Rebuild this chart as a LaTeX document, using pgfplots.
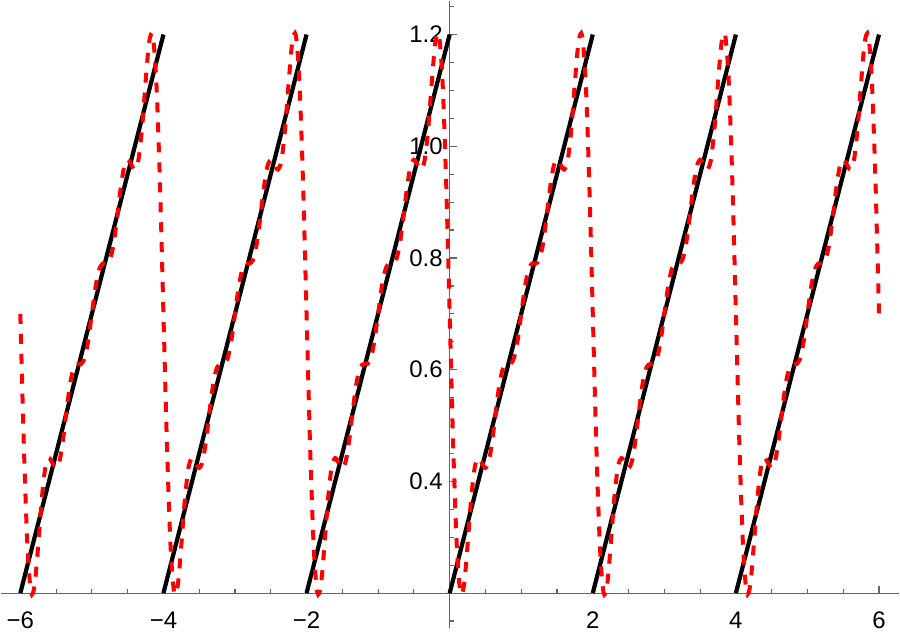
\documentclass[border=0pt]{standalone}
\usepackage{fontspec}
\setmainfont{Liberation Sans}
\usepackage{pgfplots}
\pgfplotsset{compat=1.18}
\definecolor{axgray}{gray}{0.4}
\begin{document}
\begin{tikzpicture}
\begin{axis}[
  width=449.8pt, height=314pt, scale only axis,
  xmin=-6.27, xmax=6.285, ymin=0.138, ymax=1.2608,
  y coord trafo/.code={\pgfmathparse{#1-0.2}},
  y coord inv trafo/.code={\pgfmathparse{#1+0.2}},
  axis lines=middle,
  axis line style={-, draw=axgray, line width=0.6pt},
  tick align=inside,
  major tick length=3.5pt, minor tick length=2.2pt,
  tick style={axgray, line width=0.6pt},
  xtick={-6,-4,-2,0,2,4,6},
  xticklabels={−6,−4,−2,,2,4,6},
  minor xtick={-5.5,-5,-4.5,-3.5,-3,-2.5,-1.5,-1,-0.5,0.5,1,1.5,2.5,3,3.5,4.5,5,5.5},
  ytick={0.2,0.4,0.6,0.8,1.0,1.2},
  yticklabels={,0.4,0.6,0.8,1.0,1.2},
  minor ytick={0.15,0.25,0.3,0.35,0.45,0.5,0.55,0.65,0.7,0.75,0.85,0.9,0.95,1.05,1.1,1.15,1.25},
  ticklabel style={font=\fontsize{12}{14}\selectfont, text=black},
  xticklabel style={yshift=-6pt},
  clip=true,
]
\addplot[black, line width=2.1pt] coordinates {(-6,0.2) (-4,1.2)};
\addplot[black, line width=2.1pt] coordinates {(-4,0.2) (-2,1.2)};
\addplot[black, line width=2.1pt] coordinates {(-2,0.2) (0,1.2)};
\addplot[black, line width=2.1pt] coordinates {(0,0.2) (2,1.2)};
\addplot[black, line width=2.1pt] coordinates {(2,0.2) (4,1.2)};
\addplot[black, line width=2.1pt] coordinates {(4,0.2) (6,1.2)};
\addplot[red, line width=2pt, dash pattern=on 5pt off 5pt, smooth] table {
x y
-6.00 0.7000
-5.95 0.4611
-5.90 0.2829
-5.85 0.2012
-5.80 0.2139
-5.75 0.2858
-5.70 0.3688
-5.65 0.4249
-5.60 0.4418
-5.55 0.4327
-5.50 0.4241
-5.45 0.4375
-5.40 0.4775
-5.35 0.5311
-5.30 0.5779
-5.25 0.6041
-5.20 0.6101
-5.15 0.6101
-5.10 0.6214
-5.05 0.6530
-5.00 0.7000
-4.95 0.7470
-4.90 0.7786
-4.85 0.7899
-4.80 0.7899
-4.75 0.7959
-4.70 0.8221
-4.65 0.8689
-4.60 0.9225
-4.55 0.9625
-4.50 0.9759
-4.45 0.9673
-4.40 0.9582
-4.35 0.9751
-4.30 1.0312
-4.25 1.1142
-4.20 1.1861
-4.15 1.1988
-4.10 1.1171
-4.05 0.9389
-4.00 0.7000
-3.95 0.4611
-3.90 0.2829
-3.85 0.2012
-3.80 0.2139
-3.75 0.2858
-3.70 0.3688
-3.65 0.4249
-3.60 0.4418
-3.55 0.4327
-3.50 0.4241
-3.45 0.4375
-3.40 0.4775
-3.35 0.5311
-3.30 0.5779
-3.25 0.6041
-3.20 0.6101
-3.15 0.6101
-3.10 0.6214
-3.05 0.6530
-3.00 0.7000
-2.95 0.7470
-2.90 0.7786
-2.85 0.7899
-2.80 0.7899
-2.75 0.7959
-2.70 0.8221
-2.65 0.8689
-2.60 0.9225
-2.55 0.9625
-2.50 0.9759
-2.45 0.9673
-2.40 0.9582
-2.35 0.9751
-2.30 1.0312
-2.25 1.1142
-2.20 1.1861
-2.15 1.1988
-2.10 1.1171
-2.05 0.9389
-2.00 0.7000
-1.95 0.4611
-1.90 0.2829
-1.85 0.2012
-1.80 0.2139
-1.75 0.2858
-1.70 0.3688
-1.65 0.4249
-1.60 0.4418
-1.55 0.4327
-1.50 0.4241
-1.45 0.4375
-1.40 0.4775
-1.35 0.5311
-1.30 0.5779
-1.25 0.6041
-1.20 0.6101
-1.15 0.6101
-1.10 0.6214
-1.05 0.6530
-1.00 0.7000
-0.95 0.7470
-0.90 0.7786
-0.85 0.7899
-0.80 0.7899
-0.75 0.7959
-0.70 0.8221
-0.65 0.8689
-0.60 0.9225
-0.55 0.9625
-0.50 0.9759
-0.45 0.9673
-0.40 0.9582
-0.35 0.9751
-0.30 1.0312
-0.25 1.1142
-0.20 1.1861
-0.15 1.1988
-0.10 1.1171
-0.05 0.9389
0.00 0.7000
0.05 0.4611
0.10 0.2829
0.15 0.2012
0.20 0.2139
0.25 0.2858
0.30 0.3688
0.35 0.4249
0.40 0.4418
0.45 0.4327
0.50 0.4241
0.55 0.4375
0.60 0.4775
0.65 0.5311
0.70 0.5779
0.75 0.6041
0.80 0.6101
0.85 0.6101
0.90 0.6214
0.95 0.6530
1.00 0.7000
1.05 0.7470
1.10 0.7786
1.15 0.7899
1.20 0.7899
1.25 0.7959
1.30 0.8221
1.35 0.8689
1.40 0.9225
1.45 0.9625
1.50 0.9759
1.55 0.9673
1.60 0.9582
1.65 0.9751
1.70 1.0312
1.75 1.1142
1.80 1.1861
1.85 1.1988
1.90 1.1171
1.95 0.9389
2.00 0.7000
2.05 0.4611
2.10 0.2829
2.15 0.2012
2.20 0.2139
2.25 0.2858
2.30 0.3688
2.35 0.4249
2.40 0.4418
2.45 0.4327
2.50 0.4241
2.55 0.4375
2.60 0.4775
2.65 0.5311
2.70 0.5779
2.75 0.6041
2.80 0.6101
2.85 0.6101
2.90 0.6214
2.95 0.6530
3.00 0.7000
3.05 0.7470
3.10 0.7786
3.15 0.7899
3.20 0.7899
3.25 0.7959
3.30 0.8221
3.35 0.8689
3.40 0.9225
3.45 0.9625
3.50 0.9759
3.55 0.9673
3.60 0.9582
3.65 0.9751
3.70 1.0312
3.75 1.1142
3.80 1.1861
3.85 1.1988
3.90 1.1171
3.95 0.9389
4.00 0.7000
4.05 0.4611
4.10 0.2829
4.15 0.2012
4.20 0.2139
4.25 0.2858
4.30 0.3688
4.35 0.4249
4.40 0.4418
4.45 0.4327
4.50 0.4241
4.55 0.4375
4.60 0.4775
4.65 0.5311
4.70 0.5779
4.75 0.6041
4.80 0.6101
4.85 0.6101
4.90 0.6214
4.95 0.6530
5.00 0.7000
5.05 0.7470
5.10 0.7786
5.15 0.7899
5.20 0.7899
5.25 0.7959
5.30 0.8221
5.35 0.8689
5.40 0.9225
5.45 0.9625
5.50 0.9759
5.55 0.9673
5.60 0.9582
5.65 0.9751
5.70 1.0312
5.75 1.1142
5.80 1.1861
5.85 1.1988
5.90 1.1171
5.95 0.9389
6.00 0.7000
};
\end{axis}
\path (current axis.south west) ++(0pt,-3pt);
\end{tikzpicture}
\end{document}
